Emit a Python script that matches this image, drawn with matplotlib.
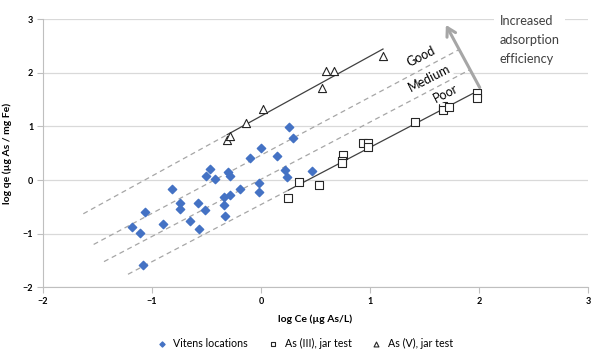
import numpy as np
import matplotlib.pyplot as plt

plt.rcParams['font.family'] = ['Lato', 'DejaVu Sans']

XLABEL = "log Ce (\u00b5g As/L)"
YLABEL = "log qe (\u00b5g As / mg Fe)"

# Vitens locations
vitens_x = [0.26, 0.29, 0.00, 0.15, -0.10, 0.22, 0.24, 0.47, -0.47, -0.50, -0.42,
            -0.30, -0.28, -0.19, -0.02, -0.02, -0.34, -0.28, -0.34, -0.33, -0.58,
            -0.51, -0.57, -0.65, -0.74, -0.74, -0.82, -0.90, -1.06, -1.18, -1.11, -1.08]
vitens_y = [0.99, 0.78, 0.60, 0.45, 0.41, 0.19, 0.05, 0.17, 0.21, 0.08, 0.02,
            0.15, 0.07, -0.16, -0.06, -0.23, -0.31, -0.27, -0.46, -0.67, -0.43,
            -0.56, -0.92, -0.77, -0.43, -0.54, -0.17, -0.81, -0.59, -0.88, -0.99, -1.58]

# As(III) jar test
as3_x = [1.98, 1.98, 1.67, 1.67, 1.73, 1.41, 0.94, 0.98, 0.98, 0.75, 0.74, 0.74, 0.53, 0.35, 0.25]
as3_y = [1.62, 1.53, 1.38, 1.30, 1.36, 1.09, 0.70, 0.69, 0.62, 0.46, 0.35, 0.32, -0.10, -0.03, -0.34]

# As(V) jar test
as5_x = [-0.31, -0.28, -0.14, 0.02, 0.56, 0.60, 0.67, 1.12]
as5_y = [0.74, 0.82, 1.07, 1.33, 1.72, 2.03, 2.03, 2.31]

# dashed extensions to the left of the fits
as5_ext_start = -1.63
as3_ext_start = -1.22

# boundary lines between Good/Medium/Poor
bound_slope = [1.084, 1.066]
bound_icpt = [0.464, 0.015]
bound_x0 = [-1.535, -1.44]
bound_x1 = [1.823, 1.924]


def main():
    fig = plt.figure(figsize=(5.92, 3.5), dpi=100)
    ax = fig.add_axes([0.0726, 0.179, 0.9204, 0.766])

    dash_col = "#a6a6a6"
    fit_col = "#404040"

    # As(V) fit
    m5, b5 = np.polyfit(as5_x, as5_y, 1)
    xs = np.array([min(as5_x), max(as5_x)])
    ax.plot(xs, m5 * xs + b5, color=fit_col, lw=0.9, zorder=3)
    xe = np.array([as5_ext_start, min(as5_x)])
    ax.plot(xe, m5 * xe + b5, color=dash_col, lw=0.9, ls=(0, (4, 3)), zorder=2)

    # As(III) fit
    m3, b3 = np.polyfit(as3_x, as3_y, 1)
    xs = np.array([min(as3_x), max(as3_x)])
    ax.plot(xs, m3 * xs + b3, color=fit_col, lw=0.9, zorder=3)
    xe = np.array([as3_ext_start, min(as3_x)])
    ax.plot(xe, m3 * xe + b3, color=dash_col, lw=0.9, ls=(0, (4, 3)), zorder=2)

    for m, b, x0, x1 in zip(bound_slope, bound_icpt, bound_x0, bound_x1):
        xb = np.array([x0, x1])
        ax.plot(xb, m * xb + b, color=dash_col, lw=0.9, ls=(0, (4, 3)), zorder=2)

    ax.scatter(vitens_x, vitens_y, marker='D', s=18, color="#4472c4", zorder=4,
               label="Vitens locations")
    ax.scatter(as3_x, as3_y, marker='s', s=30, facecolor='white', edgecolor='#262626',
               linewidths=0.8, zorder=5, label="As (III), jar test")
    ax.scatter(as5_x, as5_y, marker='^', s=34, facecolor='white', edgecolor='#262626',
               linewidths=0.8, zorder=5, label="As (V), jar test")

    # labels on the bands
    box = dict(facecolor='white', edgecolor='none', pad=0.5)
    ax.text(1.47, 2.30, "Good", rotation=27, ha='center', va='center', fontsize=9,
            color='black', bbox=box, zorder=6)
    ax.text(1.55, 1.90, "Medium", rotation=27, ha='center', va='center', fontsize=9,
            color='black', bbox=box, zorder=6)
    ax.text(1.70, 1.62, "Poor", rotation=27, ha='center', va='center', fontsize=9,
            color='black', bbox=box, zorder=6)

    ax.annotate("", xy=(1.685, 2.94), xytext=(2.02, 1.68),
                arrowprops=dict(arrowstyle='->,head_length=0.6,head_width=0.35',
                                color='#a6a6a6', lw=2.2), zorder=6)
    ax.text(2.19, 3.08, "Increased\nadsorption\nefficiency", ha='left', va='top',
            fontsize=9.2, color='#404040', linespacing=1.7,
            bbox=dict(facecolor='white', edgecolor='none', pad=4), zorder=6)

    ax.set_xlim(-2, 3)
    ax.set_ylim(-2, 3)
    ax.set_xticks(range(-2, 4))
    ax.set_yticks(range(-2, 4))
    ax.yaxis.grid(True, color='#d9d9d9', lw=0.9)
    ax.set_axisbelow(True)
    for s in ['top', 'right']:
        ax.spines[s].set_visible(False)
    for s in ['left', 'bottom']:
        ax.spines[s].set_color('#bfbfbf')
    ax.tick_params(length=4, color='#bfbfbf', labelsize=6.5, pad=3)
    for lab in ax.get_xticklabels() + ax.get_yticklabels():
        lab.set_fontweight('bold')
    ax.set_xlabel(XLABEL, fontsize=7.5, fontweight='bold', labelpad=6)
    ax.set_ylabel(YLABEL, fontsize=7.5, fontweight='bold', labelpad=8)

    ax.legend(loc='center', bbox_to_anchor=(0.51, 0.018), bbox_transform=fig.transFigure,
              ncol=3, frameon=False, fontsize=7.7, handletextpad=0.1, columnspacing=1.3,
              markerscale=0.6, borderpad=0.2)

    fig.savefig("out.png", dpi=100)


if __name__ == "__main__":
    main()
